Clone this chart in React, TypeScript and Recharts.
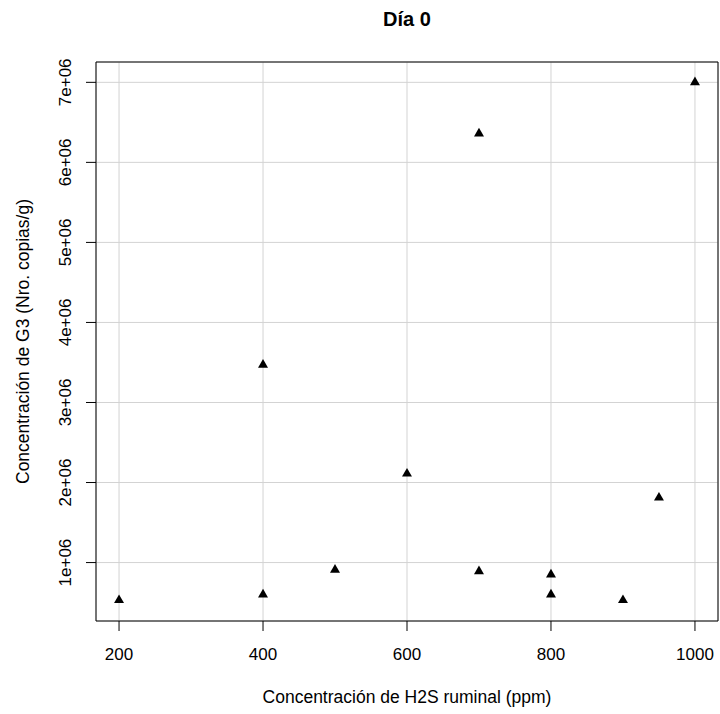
import { ScatterChart, Scatter, XAxis, YAxis, CartesianGrid, ReferenceArea } from "recharts";

const h2s = [200, 400, 400, 500, 600, 700, 700, 800, 800, 900, 950, 1000];
const g3 = [530000, 600000, 3470000, 910000, 2110000, 890000, 6360000, 850000, 600000, 530000, 1810000, 7000000];
const xTicks = [200, 400, 600, 800, 1000];
const yTicks = [1000000, 2000000, 3000000, 4000000, 5000000, 6000000, 7000000];

const points = h2s.map((x, i) => ({ x, y: g3[i] }));

// R-style 4% padding on both axes
const X_DOMAIN: [number, number] = [168, 1032];
const Y_DOMAIN: [number, number] = [270000, 7254000];

const FONT = "'Liberation Sans', Arial, sans-serif";

function Triangle(props: any) {
  const { cx, cy } = props;
  const s = 3.7;
  const r = 1.555 * s;
  const xc = 1.347 * s;
  const yc = 0.778 * s;
  return (
    <polygon
      points={`${cx},${cy - r} ${cx + xc},${cy + yc} ${cx - xc},${cy + yc}`}
      fill="#000"
    />
  );
}

function XTick(props: any) {
  const { x, payload } = props;
  return (
    <text x={x} y={660} textAnchor="middle" fontSize={17} fontFamily={FONT} fill="#000">
      {payload.value}
    </text>
  );
}

function YTick(props: any) {
  const { y, payload } = props;
  const bx = 71;
  return (
    <text
      x={bx}
      y={y}
      textAnchor="middle"
      fontSize={17}
      fontFamily={FONT}
      fill="#000"
      transform={`rotate(-90, ${bx}, ${y})`}
    >
      {`${payload.value / 1000000}e+06`}
    </text>
  );
}

function XTitle(props: any) {
  const vb = props.viewBox || {};
  const cx = (vb.x ?? 96) + (vb.width ?? 622) / 2;
  return (
    <text x={cx} y={703} textAnchor="middle" fontSize={17.5} fontFamily={FONT} fill="#000">
      Concentración de H2S ruminal (ppm)
    </text>
  );
}

function YTitle(props: any) {
  const vb = props.viewBox || {};
  const cy = (vb.y ?? 62) + (vb.height ?? 559) / 2;
  const bx = 29;
  return (
    <text
      x={bx}
      y={cy}
      textAnchor="middle"
      fontSize={17.5}
      fontFamily={FONT}
      fill="#000"
      transform={`rotate(-90, ${bx}, ${cy})`}
    >
      Concentración de G3 (Nro. copias/g)
    </text>
  );
}

export default function App() {
  return (
    <div style={{ position: "absolute", left: 0, top: 0, width: 720, height: 714, background: "#fff", fontFamily: FONT }}>
      <div
        style={{
          position: "absolute",
          left: 96,
          width: 622,
          top: 8,
          textAlign: "center",
          fontSize: 20,
          fontWeight: "bold",
          lineHeight: "22px",
        }}
      >
        Día 0
      </div>
      <ScatterChart width={720} height={714} margin={{ top: 62, right: 2, bottom: 0, left: 0 }}>
        <CartesianGrid stroke="#d3d3d3" strokeWidth={1} />
        <XAxis
          type="number"
          dataKey="x"
          domain={X_DOMAIN}
          ticks={xTicks}
          allowDataOverflow
          height={93}
          tickSize={10}
          tickLine={{ stroke: "#000" }}
          axisLine={false}
          tick={<XTick />}
          label={<XTitle />}
        />
        <YAxis
          type="number"
          dataKey="y"
          domain={Y_DOMAIN}
          ticks={yTicks}
          allowDataOverflow
          width={96}
          tickSize={10}
          tickLine={{ stroke: "#000" }}
          axisLine={false}
          tick={<YTick />}
          label={<YTitle />}
        />
        <ReferenceArea x1={X_DOMAIN[0]} x2={X_DOMAIN[1]} y1={Y_DOMAIN[0]} y2={Y_DOMAIN[1]} fill="none" stroke="#000" strokeWidth={1} fillOpacity={0} />
        <Scatter data={points} shape={<Triangle />} isAnimationActive={false} />
      </ScatterChart>
    </div>
  );
}
